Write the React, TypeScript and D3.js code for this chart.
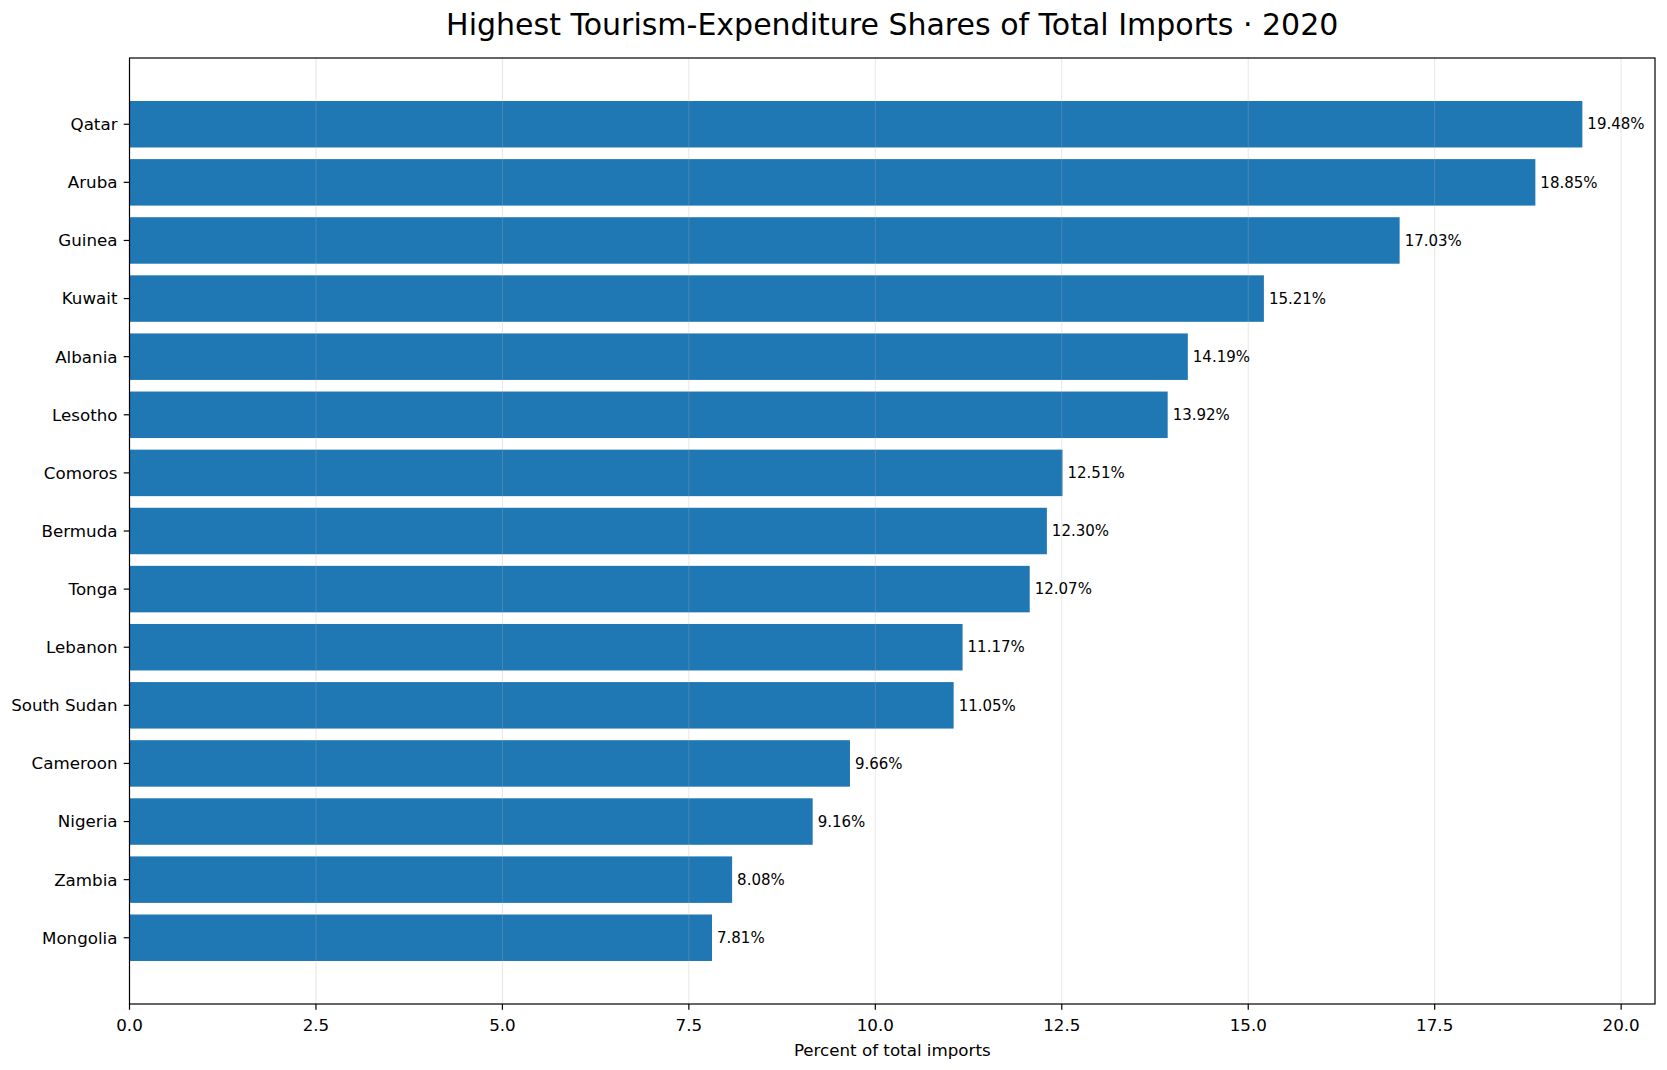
import React, { useEffect } from "react";
import * as d3 from "d3";

const countries = [
  "Qatar",
  "Aruba",
  "Guinea",
  "Kuwait",
  "Albania",
  "Lesotho",
  "Comoros",
  "Bermuda",
  "Tonga",
  "Lebanon",
  "South Sudan",
  "Cameroon",
  "Nigeria",
  "Zambia",
  "Mongolia",
];

const shares = [
  19.48, 18.85, 17.03, 15.21, 14.19, 13.92, 12.51, 12.3, 12.07, 11.17, 11.05,
  9.66, 9.16, 8.08, 7.81,
];

const xTicks = [0, 2.5, 5, 7.5, 10, 12.5, 15, 17.5, 20];

const title = "Highest Tourism-Expenditure Shares of Total Imports · 2020";
const xLabel = "Percent of total imports";

const width = 1667;
const height = 1070;
const margin = { top: 58, right: 12, bottom: 66, left: 129.5 };
const font = "'DejaVu Sans', sans-serif";

export default function App() {
  useEffect(() => {
    document.body.style.margin = "0";
  }, []);

  const innerW = width - margin.left - margin.right;
  const innerH = height - margin.top - margin.bottom;

  const xMax = d3.max(shares)! * 1.05;
  const x = d3.scaleLinear().domain([0, xMax]).range([0, innerW]);

  const n = countries.length;
  const pad = 0.05 * (n - 1 + 0.8);
  const y = d3
    .scaleLinear()
    .domain([-0.4 - pad, n - 1 + 0.4 + pad])
    .range([0, innerH]);
  const barH = y(0.8) - y(0);

  return (
    <svg width={width} height={height} style={{ display: "block" }} fontFamily={font}>
      <rect width={width} height={height} fill="white" />
      <text
        x={margin.left + innerW / 2}
        y={35}
        textAnchor="middle"
        fontSize={30}
        fill="#000"
      >
        {title}
      </text>
      <g transform={`translate(${margin.left},${margin.top})`}>
        {shares.map((v, i) => (
          <rect
            key={countries[i]}
            x={x(0)}
            y={y(i) - barH / 2}
            width={x(v) - x(0)}
            height={barH}
            fill="#1f77b4"
          />
        ))}

        {/* vertical grid on top of the bars */}
        {xTicks.map((t) => (
          <line
            key={`g-${t}`}
            x1={x(t)}
            x2={x(t)}
            y1={0}
            y2={innerH}
            stroke="#b0b0b0"
            strokeOpacity={0.3}
            strokeWidth={1}
          />
        ))}

        {shares.map((v, i) => (
          <text
            key={`v-${countries[i]}`}
            x={x(v) + 5}
            y={y(i)}
            dy="0.35em"
            fontSize={15}
            fill="#000"
          >
            {`${v.toFixed(2)}%`}
          </text>
        ))}

        {countries.map((c, i) => (
          <g key={`y-${c}`} transform={`translate(0,${y(i)})`}>
            <line x1={-5.8} x2={0} stroke="#000" strokeWidth={1.2} />
            <text x={-12} dy="0.35em" textAnchor="end" fontSize={16.7} fill="#000">
              {c}
            </text>
          </g>
        ))}

        {xTicks.map((t) => (
          <g key={`x-${t}`} transform={`translate(${x(t)},${innerH})`}>
            <line y1={0} y2={5.8} stroke="#000" strokeWidth={1.2} />
            <text y={27} textAnchor="middle" fontSize={16.7} fill="#000">
              {d3.format(".1f")(t)}
            </text>
          </g>
        ))}

        <rect
          x={0}
          y={0}
          width={innerW}
          height={innerH}
          fill="none"
          stroke="#000"
          strokeWidth={1.2}
        />

        <text
          x={innerW / 2}
          y={innerH + 52}
          textAnchor="middle"
          fontSize={16.7}
          fill="#000"
        >
          {xLabel}
        </text>
      </g>
    </svg>
  );
}
